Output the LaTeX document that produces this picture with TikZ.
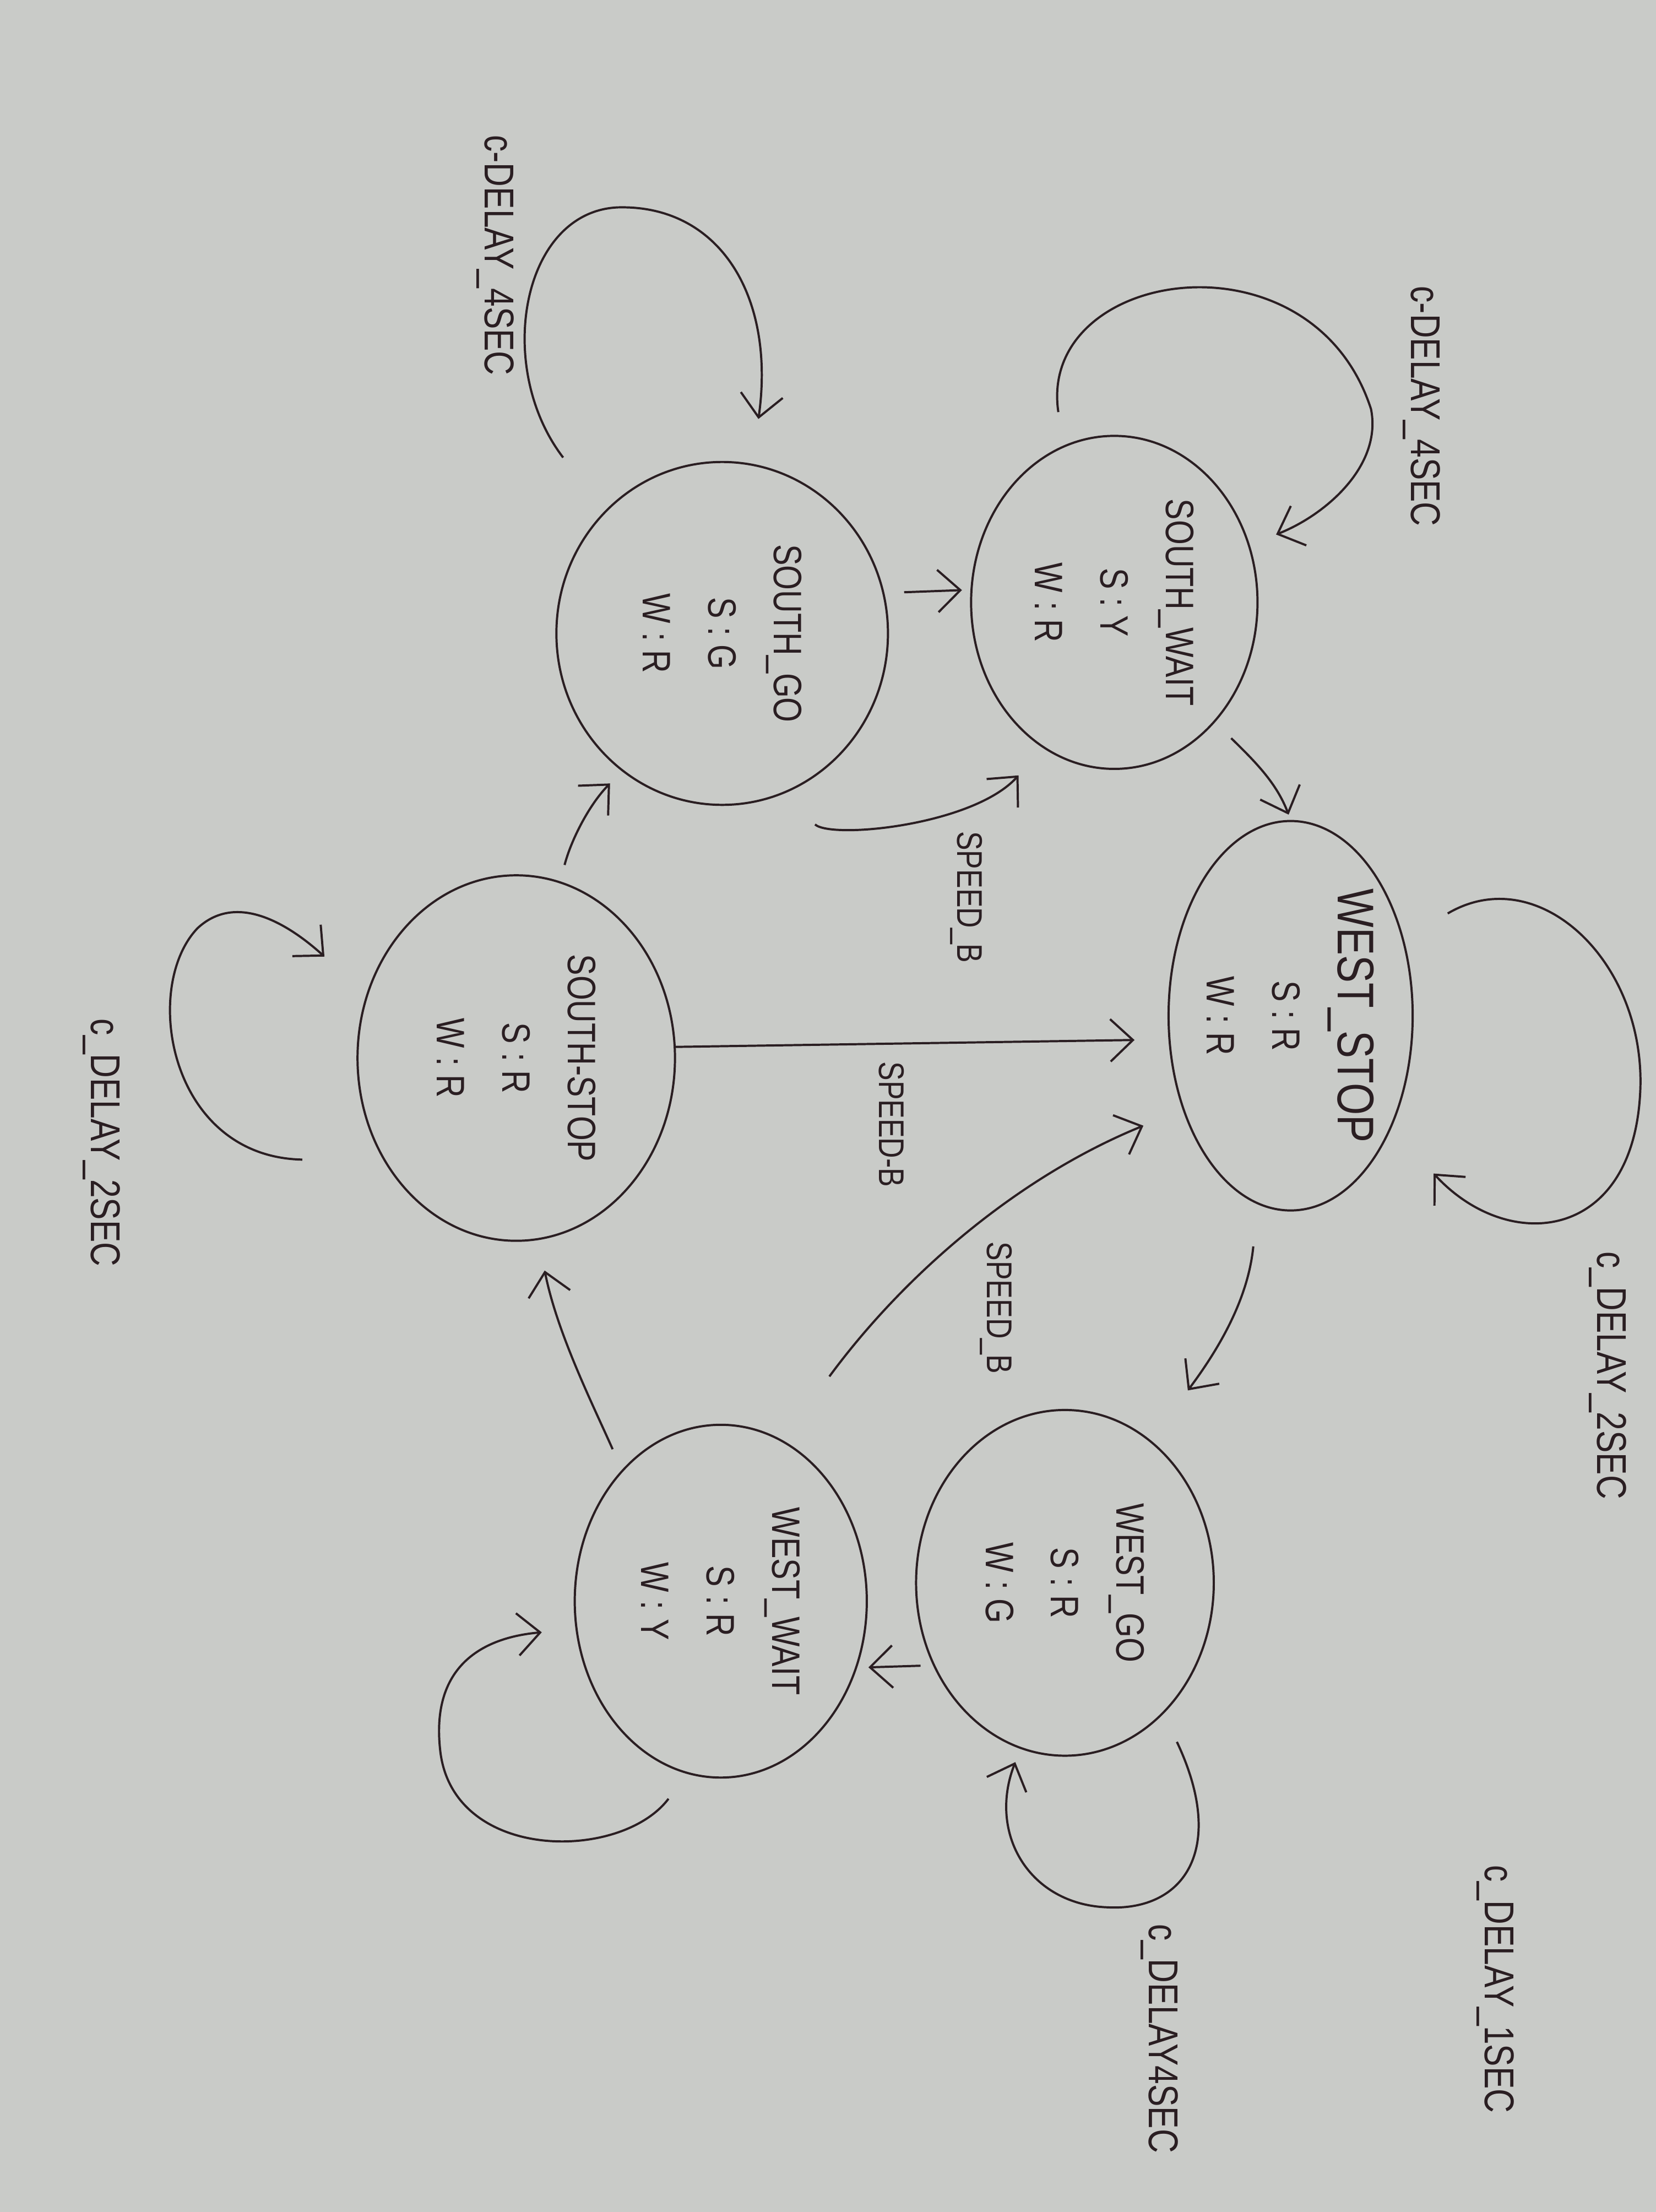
\documentclass[tikz,border=0pt]{standalone}
\usepackage{fontspec}
\setmainfont{Liberation Sans}[FakeStretch=0.8]
\usetikzlibrary{shapes.geometric,arrows.meta}
\definecolor{paper}{RGB}{201,203,200}
\definecolor{ink}{RGB}{42,30,34}
\tikzstyle{state} = [draw=ink, line width=1.1pt, ellipse, inner sep=0pt, rotate=-90, align=center, text=ink, font={\fontsize{20}{33}\selectfont}]
\tikzstyle{conn} = [draw=ink, line width=1.1pt, -{Straight Barb[length=4mm,width=7.5mm]}]
\tikzstyle{cond} = [rotate=-90, text=ink, font={\fontsize{18}{20}\selectfont}]
\tikzstyle{delay} = [rotate=-90, text=ink, font={\fontsize{21}{24}\selectfont}]
\begin{document}
\begin{tikzpicture}[x=0.025cm,y=-0.025cm]
  \useasboundingbox (0,0) rectangle (1174,1568);
  \fill[paper] (0,0) rectangle (1174,1568);
  \node[state, minimum width=5.9cm, minimum height=5.075cm] (sw) at (790,427) {SOUTH\_WAIT\\S : Y\\W : R};
  \node[state, minimum width=6.075cm, minimum height=5.875cm] (sg) at (512,449) {SOUTH\_GO\\S : G\\W : R};
  \node[state, minimum width=6.9cm, minimum height=4.325cm] (ws) at (915,720) {{\fontsize{26}{30}\selectfont WEST\_STOP}\\S : R\\W : R};
  \node[state, minimum width=6.475cm, minimum height=5.625cm] (ss) at (366,750) {SOUTH-STOP\\S : R\\W : R};
  \node[state, minimum width=6.125cm, minimum height=5.275cm] (wg) at (755,1122) {WEST\_GO\\S : R\\W : G};
  \node[state, minimum width=6.25cm, minimum height=5.175cm] (ww) at (511,1135) {WEST\_WAIT\\S : R\\W : Y};
  \node[cond] (c1) at (685,636) {SPEED\_B};
  \node[cond] (c2) at (632,797) {SPEED-B};
  \node[cond] (c3) at (706,927) {SPEED\_B};
  \node[delay] (d1) at (1008,288) {c-DELAY\_4SEC};
  \node[delay] (d2) at (351,181) {c-DELAY\_4SEC};
  \node[delay] (d3) at (1140,975) {c\_DELAY\_2SEC};
  \node[delay] (d4) at (72,810) {c\_DELAY\_2SEC};
  \node[delay] (d5) at (822,1445) {c\_DELAY4SEC};
  \node[delay] (d6) at (1060,1410) {c\_DELAY\_1SEC};
  \draw[conn, shorten <=0.6cm, shorten >=0.5cm] (sw.198) .. controls (735,190) and (930,160) .. (972,290) .. controls (980,330) and (940,365) .. (sw.113);
  \draw[conn, shorten <=1.2cm, shorten >=0.8cm] (sg.224) .. controls (350,260) and (370,150) .. (438,147) .. controls (510,145) and (550,210) .. (sg.170);
  \draw[conn, shorten <=0.9cm, shorten >=1.1cm] (ws.124) .. controls (1090,610) and (1165,680) .. (1163,770) .. controls (1160,880) and (1070,890) .. (ws.42);
  \draw[conn, shorten <=1.45cm, shorten >=1.0cm] (ss.308) .. controls (120,820) and (100,700) .. (140,658) .. controls (170,630) and (210,660) .. (ss.247);
  \draw[conn, shorten <=0.55cm, shorten >=0.25cm] (wg.37) .. controls (870,1310) and (840,1355) .. (785,1352) .. controls (730,1350) and (700,1300) .. (wg.345);
  \draw[conn, shorten <=0.55cm, shorten >=0.6cm] (ww.349) .. controls (440,1320) and (320,1320) .. (312,1240) .. controls (305,1175) and (350,1160) .. (ww.281);
  \draw[conn, shorten <=0.35cm, shorten >=0.15cm] (sg.104) -- (sw.265);
  \draw[conn, shorten <=0.4cm, shorten >=0.1cm] (sw.40) .. controls (890,540) and (905,555) .. (ws.180);
  \draw[conn, shorten <=0.8cm, shorten >=0.65cm] (sg.20) .. controls (590,595) and (690,585) .. (sw.334);
  \draw[conn, shorten >=0.6cm] (ss.94) -- (ws.281);
  \draw[conn, shorten <=1.4cm, shorten >=0.75cm] (ww.159) .. controls (640,905) and (720,835) .. (ws.311);
  \draw[conn, shorten <=0.75cm, shorten >=1.1cm] (ws.350) .. controls (885,920) and (865,955) .. (wg.149);
  \draw[conn, shorten <=0.22cm, shorten >=0.2cm] (wg.302) -- (ww.64);
  \draw[conn, shorten <=0.4cm, shorten >=0.55cm] (ww.217) .. controls (420,995) and (395,945) .. (ss.7);
  \draw[conn, shorten <=0.3cm, shorten >=0.3cm] (ss.166) .. controls (405,595) and (418,570) .. (sg.324);
\end{tikzpicture}
\end{document}
